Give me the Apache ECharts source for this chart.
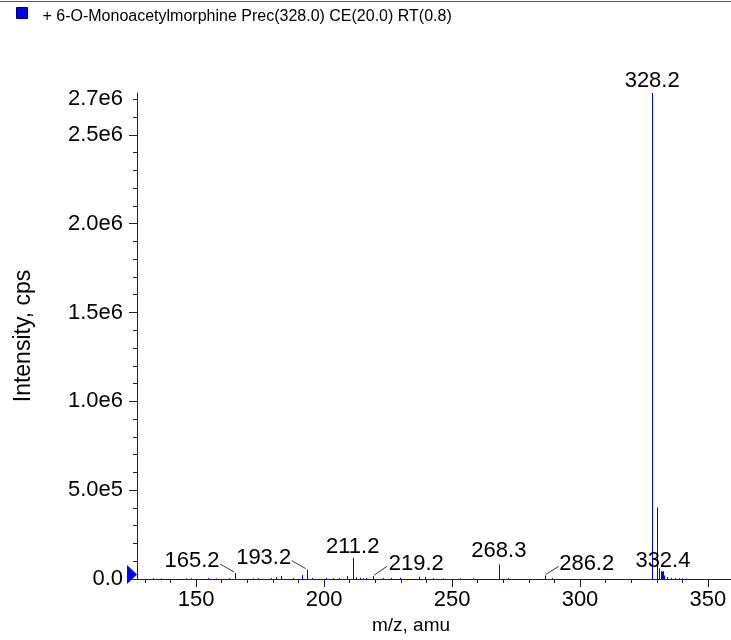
<!DOCTYPE html>
<html lang="en">
<head>
    <meta charset="UTF-8">
    <title>6-O-Monoacetylmorphine</title>
    <script type="text/javascript" src="https://cdn.jsdelivr.net/npm/echarts@6/dist/echarts.min.js"></script>
    <style>
        html, body { margin: 0; padding: 0; background: #fff; }
    </style>
</head>
<body>
<div id="main" style="width: 731px;height:640px;"></div>
<script type="text/javascript">
    var myChart = echarts.init(document.getElementById('main'));

    var seriesName = '+ 6-O-Monoacetylmorphine Prec(328.0) CE(20.0) RT(0.8)';

    // spectrum sticks, m/z and intensity (cps)
    var stickMz = [
        133.0, 136.3, 146.1, 148.0, 154.5, 157.8, 163.0, 165.2, 172.1, 174.1,
        179.2, 181.3, 183.2, 187.7, 191.2, 193.2, 195.1, 200.8, 203.4, 206.0,
        209.1, 211.2, 212.6, 214.2, 215.2, 216.5, 219.2, 223.0, 226.3, 229.5,
        237.1, 239.3, 242.6, 246.5, 253.0, 258.2, 268.3, 271.9, 286.2, 288.9,
        328.2, 330.0, 331.0, 331.5, 332.0, 332.4, 333.0, 334.0, 335.5, 337.0,
        338.5, 340.0, 341.6
    ];
    var stickIntensity = [
        4e3, 3e3, 3e3, 4e3, 5e3, 3e3, 4e3, 3.4e4, 3e3, 4e3,
        5e3, 1.1e4, 1.7e4, 5e3, 2.2e4, 5.3e4, 6e3, 7e3, 4e3, 5e3,
        1.7e4, 1.19e5, 9e3, 7e3, 5e3, 6e3, 1.6e4, 5e3, 6e3, 7e3,
        1.3e4, 1.2e4, 4e3, 3e3, 4e3, 3e3, 8.2e4, 5e3, 2e4, 5e3,
        2.735e6, 4.03e5, 6e4, 4.5e4, 4e4, 4.5e4, 2e4, 1e4, 6e3, 5e3,
        4e3, 4e3, 3e3
    ];

    // peaks that carry a m/z label
    var labelMz = [165.2, 193.2, 211.2, 219.2, 268.3, 286.2, 328.2, 332.4];

    // axis ticks
    var xMin = 126.9, xMax = 359.0;
    var xTickValues = [130, 140, 150, 160, 170, 180, 190, 200, 210, 220, 230, 240, 250,
        260, 270, 280, 290, 300, 310, 320, 330, 340, 350];
    var xLabelValues = [150, 200, 250, 300, 350];
    var yMax = 2.735e6;
    var yTickValues = [];
    for (var t = 0; t <= 27; t++) { yTickValues.push(t * 1e5); }
    var yMajorValues = [0, 5e5, 1e6, 1.5e6, 2e6, 2.5e6];
    var yLabelValues = [0, 5e5, 1e6, 1.5e6, 2e6, 2.5e6, 2.7e6];

    // label offsets from the peak top: text centre, leader line start (px)
    var labelPlacement = {
        '165.2': {text: [-43, -12], leader: [-15, -9]},
        '193.2': {text: [-43, -12], leader: [-15, -9]},
        '211.2': {text: [0, -11]},
        '219.2': {text: [43, -12], leader: [14, -10]},
        '268.3': {text: [0, -13]},
        '286.2': {text: [42, -12], leader: [14, -9]},
        '328.2': {text: [0, -12]},
        '332.4': {text: [0, -10]}
    };

    var FONT = 'Liberation Sans, Arial, Helvetica, sans-serif';
    var AXIS_COLOR = '#222';

    var sticks = stickMz.map(function (mz, i) { return [mz, stickIntensity[i]]; });
    var labelled = labelMz.map(function (mz) {
        return [mz, stickIntensity[stickMz.indexOf(mz)]];
    });

    function renderStick(params, api) {
        var top = api.coord([api.value(0), api.value(1)]);
        var base = api.coord([api.value(0), 0]);
        var x = Math.round(top[0]) + 0.5;
        return {
            type: 'line',
            shape: {x1: x, y1: base[1], x2: x, y2: top[1]},
            style: {stroke: '#0000ff', lineWidth: 1}
        };
    }

    function renderLabel(params, api) {
        var mz = api.value(0);
        var top = api.coord([mz, api.value(1)]);
        var p = labelPlacement[mz.toFixed(1)] || {text: [0, -12]};
        var children = [{
            type: 'text',
            x: top[0] + p.text[0],
            y: top[1] + p.text[1],
            style: {
                text: mz.toFixed(1),
                fill: '#000',
                font: '22px ' + FONT,
                align: 'center',
                verticalAlign: 'middle'
            }
        }];
        if (p.leader) {
            var sx = p.leader[0] < 0 ? -1 : 1;
            children.push({
                type: 'line',
                shape: {
                    x1: top[0] + p.leader[0], y1: top[1] + p.leader[1],
                    x2: top[0] + sx, y2: top[1] - 1
                },
                style: {stroke: '#333', lineWidth: 1}
            });
        }
        return {type: 'group', children: children};
    }

    // blue marker sitting left of the y axis at zero intensity
    function renderMarker(params, api) {
        var p = api.coord([api.value(0), api.value(1)]);
        return {
            type: 'polygon',
            shape: {points: [[p[0] - 10, p[1] - 14], [p[0], p[1] - 4.5], [p[0] - 10, p[1] + 5]]},
            style: {fill: '#0000ff'}
        };
    }

    function yFormat(v) {
        if (v === 0) return '0.0';
        return v.toExponential(1).replace('e+', 'e');
    }

    var option = {
        animation: false,
        legend: {
            left: 16,
            top: 7,
            padding: 0,
            itemWidth: 11,
            itemHeight: 11,
            selectedMode: false,
            formatter: '{t|{name}}',
            textStyle: {
                fontFamily: FONT, fontSize: 16, color: '#000',
                rich: {t: {fontFamily: FONT, fontSize: 16, color: '#000', padding: [8, 0, 0, 10]}}
            },
            data: [{
                name: seriesName,
                icon: 'rect',
                itemStyle: {color: '#0000ff', borderColor: '#000066', borderWidth: 1}
            }]
        },
        graphic: [{
            type: 'line',
            shape: {x1: 0, y1: 1.5, x2: 731, y2: 1.5},
            style: {stroke: '#555', lineWidth: 1}
        }],
        grid: {left: 137, right: 0, top: 93, bottom: 58},
        xAxis: [{
            type: 'value',
            min: xMin,
            max: xMax,
            name: 'm/z, amu',
            nameLocation: 'middle',
            nameGap: 37,
            nameTextStyle: {fontFamily: FONT, fontSize: 19, color: '#000', padding: [0, 46, 0, 0]},
            splitLine: {show: false},
            axisLine: {lineStyle: {color: AXIS_COLOR, width: 1}},
            axisTick: {length: 4, customValues: xTickValues, lineStyle: {color: AXIS_COLOR}},
            axisLabel: {customValues: xLabelValues, margin: 10, fontFamily: FONT, fontSize: 22, color: '#000'}
        }, {
            type: 'value',
            position: 'bottom',
            min: xMin,
            max: xMax,
            splitLine: {show: false},
            axisLine: {show: false},
            axisTick: {length: 8, customValues: xLabelValues, lineStyle: {color: AXIS_COLOR}},
            axisLabel: {show: false}
        }],
        yAxis: [{
            type: 'value',
            min: 0,
            max: yMax,
            name: 'Intensity, cps',
            nameLocation: 'middle',
            nameGap: 102,
            nameTextStyle: {fontFamily: FONT, fontSize: 23, color: '#000'},
            splitLine: {show: false},
            axisLine: {show: true, lineStyle: {color: AXIS_COLOR, width: 1}},
            axisTick: {show: true, length: 4, customValues: yTickValues, lineStyle: {color: AXIS_COLOR}},
            axisLabel: {customValues: yLabelValues, margin: 14, formatter: yFormat,
                fontFamily: FONT, fontSize: 22, color: '#000'}
        }, {
            type: 'value',
            position: 'left',
            min: 0,
            max: yMax,
            splitLine: {show: false},
            axisLine: {show: false},
            axisTick: {show: true, length: 8, customValues: yMajorValues, lineStyle: {color: AXIS_COLOR}},
            axisLabel: {show: false}
        }],
        series: [{
            name: seriesName,
            type: 'custom',
            renderItem: renderStick,
            data: sticks,
            encode: {x: 0, y: 1},
            z: 3
        }, {
            name: 'labels',
            type: 'custom',
            renderItem: renderLabel,
            data: labelled,
            encode: {x: 0, y: 1},
            z: 4
        }, {
            name: 'threshold',
            type: 'custom',
            renderItem: renderMarker,
            data: [[xMin, 0]],
            encode: {x: 0, y: 1},
            clip: false,
            silent: true,
            z: 5
        }]
    };

    myChart.setOption(option);
</script>
</body>
</html>
